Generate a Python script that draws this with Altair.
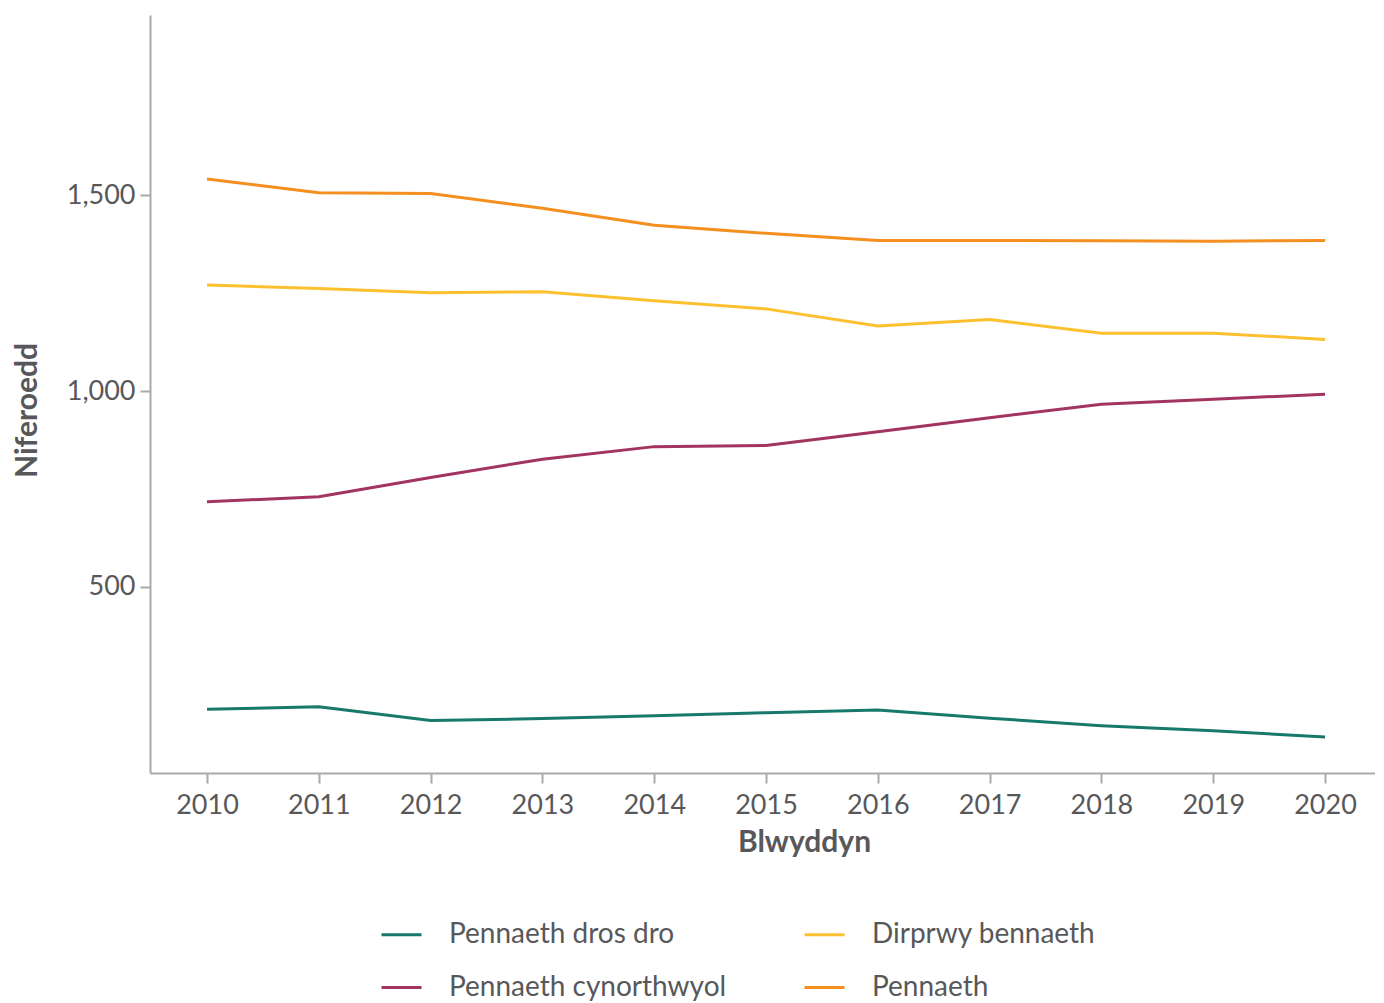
import altair as alt
import pandas as pd

years = list(range(2010, 2021))
series_names = ["Pennaeth dros dro", "Dirprwy bennaeth", "Pennaeth cynorthwyol", "Pennaeth"]
dros_dro = [187, 193, 158, 163, 170, 178, 185, 164, 145, 132, 116]
dirprwy = [1271, 1262, 1251, 1254, 1231, 1210, 1166, 1183, 1148, 1148, 1132]
cynorthwyol = [717, 730, 779, 826, 858, 861, 896, 932, 966, 979, 992]
pennaeth = [1542, 1507, 1505, 1467, 1424, 1403, 1385, 1385, 1384, 1383, 1385]
colors = ["#17796a", "#fdc02f", "#a3335f", "#f48f20"]
y_ticks = [500, 1000, 1500]

rows = []
for name, vals in zip(series_names, [dros_dro, dirprwy, cynorthwyol, pennaeth]):
    for yr, v in zip(years, vals):
        rows.append({"Blwyddyn": yr, "Niferoedd": v, "Cyfres": name})
df = pd.DataFrame(rows)

FONT = "Lato"
GREY = "#a9a9ae"
TXT = "#58585a"

chart = (
    alt.Chart(df)
    .mark_line(strokeWidth=3)
    .encode(
        x=alt.X(
            "Blwyddyn:Q",
            scale=alt.Scale(domain=[2009.49, 2020.447], nice=False, zero=False),
            axis=alt.Axis(
                title="Blwyddyn",
                values=years,
                format="d",
                grid=False,
                domainColor=GREY,
                domainWidth=2,
                tickColor=GREY,
                tickWidth=2,
                tickSize=10,
                labelFont=FONT,
                labelFontSize=27,
                labelColor=TXT,
                labelPadding=9,
                titleFont=FONT,
                titleFontSize=30,
                titleFontWeight="bold",
                titleColor=TXT,
                titlePadding=9,
                titleX=654,
                titleAlign="center",
            ),
        ),
        y=alt.Y(
            "Niferoedd:Q",
            scale=alt.Scale(domain=[24, 1961], nice=False, zero=False),
            axis=alt.Axis(
                title="Niferoedd",
                values=y_ticks,
                format=",.0f",
                grid=False,
                domainColor=GREY,
                domainWidth=2,
                tickColor=GREY,
                tickWidth=2,
                tickSize=10,
                labelFont=FONT,
                labelFontSize=27,
                labelColor=TXT,
                labelPadding=5,
                titleFont=FONT,
                titleFontSize=30,
                titleFontWeight="bold",
                titleColor=TXT,
                titlePadding=24,
                titleY=395,
            ),
        ),
        color=alt.Color(
            "Cyfres:N",
            scale=alt.Scale(domain=series_names, range=colors),
            sort=series_names,
            legend=alt.Legend(
                title=None,
                orient="none",
                legendX=230,
                legendY=898,
                columns=2,
                direction="horizontal",
                symbolType="stroke",
                symbolSize=1600,
                symbolStrokeWidth=3,
                labelFont=FONT,
                labelFontSize=28,
                labelColor=TXT,
                labelLimit=500,
                labelOffset=26,
                columnPadding=71,
                rowPadding=17,
            ),
        ),
    )
    .properties(width=1225, height=758, padding={"left": 4, "top": 7, "right": 0, "bottom": 0})
    .configure_view(stroke=None)
)

chart.save("out.html", embed_options={"renderer": "svg", "actions": False})
